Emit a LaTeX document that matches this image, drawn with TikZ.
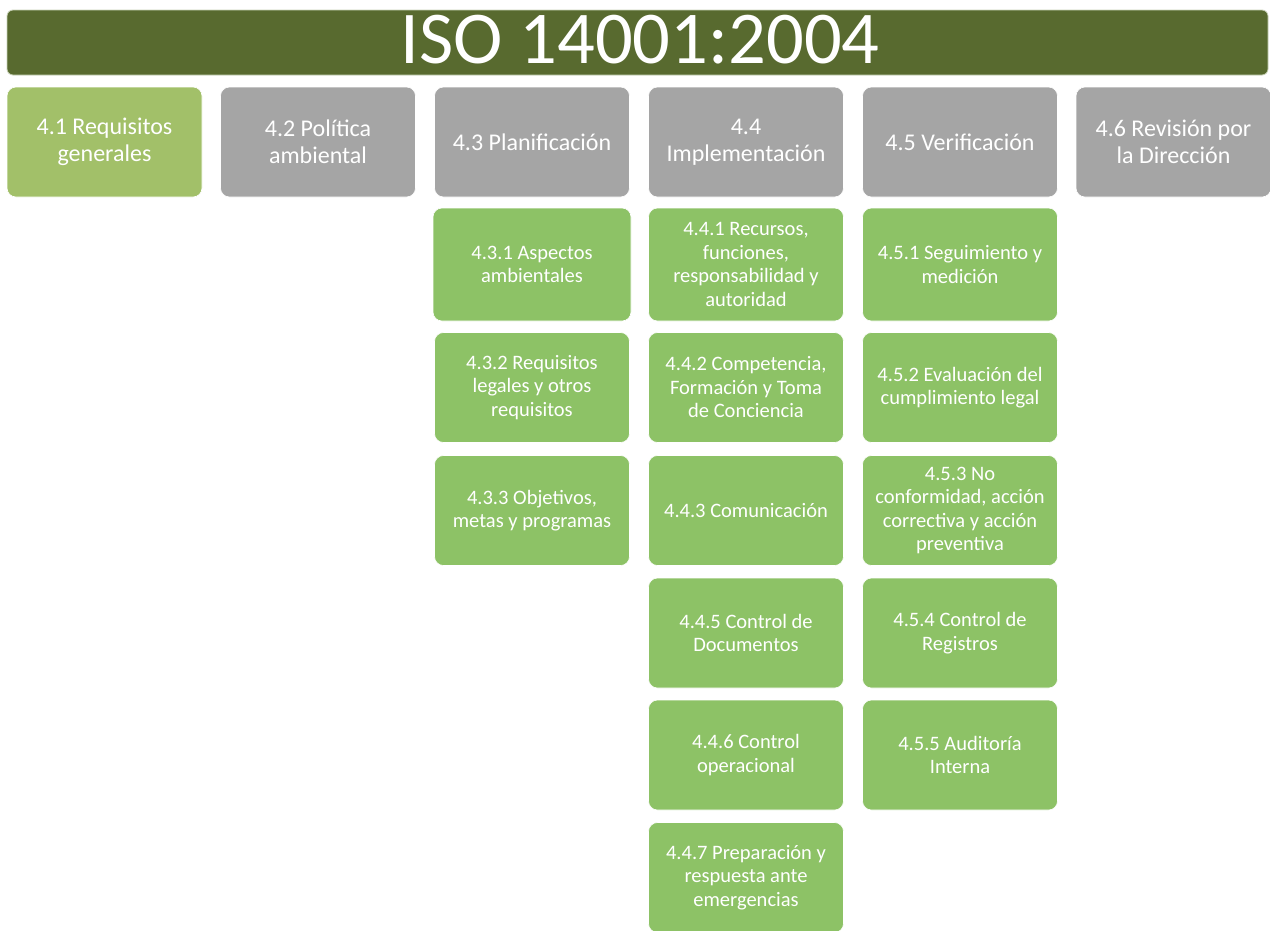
\documentclass[tikz,border=0pt]{standalone}
\usepackage{fontspec}
\setmainfont{Carlito}
\definecolor{titlegreen}{HTML}{586A2F}
\definecolor{titleedge}{HTML}{C9D3B8}
\definecolor{lightgreen}{HTML}{A2C069}
\definecolor{boxgray}{HTML}{A5A5A5}
\definecolor{subgreen}{HTML}{8DC266}
\tikzset{
  box/.style={rounded corners=9pt, minimum width=195pt, minimum height=110pt,
    align=center, text=white, inner sep=0pt, draw=white, line width=0.6pt,
    font=\fontsize{20.5}{23.5}\selectfont},
  topbox/.style={box, font=\fontsize{24}{26.5}\selectfont},
  graybox/.style={topbox, fill=boxgray},
  subbox/.style={box, fill=subgreen},
}
\begin{document}
\begin{tikzpicture}[x=1pt,y=-1pt]
\useasboundingbox (0,0) rectangle (1270,930);
\clip (0,0) rectangle (1270,930);
% title
\node[fill=titlegreen, draw=titleedge, line width=0.8pt, rounded corners=6pt,
  minimum width=1261pt, minimum height=65pt, inner sep=0pt] (titlebar) at (637.5,42.5) {};
\node[text=white, font=\fontsize{74.5}{75}\selectfont, inner sep=0pt] (title) at (640,40) {ISO 14001:2004};
% top row
\node[topbox, fill=lightgreen] (t1) at (104.5,142) {4.1 Requisitos\\generales};
\node[graybox] (t2) at (318,142) {4.2 Política\\ambiental};
\node[graybox] (t3) at (532,142) {4.3 Planificación};
\node[graybox] (t4) at (746,142) {4.4\\Implementación};
\node[graybox] (t5) at (960,142) {4.5 Verificación};
\node[graybox] (t6) at (1173.5,142) {4.6 Revisión por\\la Dirección};
% column 4.3
\node[subbox, minimum width=198pt, minimum height=113pt] (s431) at (532,264.5) {4.3.1 Aspectos\\ambientales};
\node[subbox] (s432) at (532,387.5) {4.3.2 Requisitos\\legales y otros\\requisitos};
\node[subbox] (s433) at (532,510.5) {4.3.3 Objetivos,\\metas y programas};
% column 4.4
\node[subbox, minimum height=113pt] (s441) at (746,264.5) {4.4.1 Recursos,\\funciones,\\responsabilidad y\\autoridad};
\node[subbox] (s442) at (746,387.5) {4.4.2 Competencia,\\Formación y Toma\\de Conciencia};
\node[subbox] (s443) at (746,510.5) {4.4.3 Comunicación};
\node[subbox] (s445) at (746,633) {4.4.5 Control de\\Documentos};
\node[subbox] (s446) at (746,755) {4.4.6 Control\\operacional};
\node[subbox] (s447) at (746,877.5) {4.4.7 Preparación y\\respuesta ante\\emergencias};
% column 4.5
\node[subbox, minimum height=113pt] (s451) at (960,264.5) {4.5.1 Seguimiento y\\medición};
\node[subbox] (s452) at (960,387.5) {4.5.2 Evaluación del\\cumplimiento legal};
\node[subbox] (s453) at (960,510.5) {4.5.3 No\\conformidad, acción\\correctiva y acción\\preventiva};
\node[subbox] (s454) at (960,633) {4.5.4 Control de\\Registros};
\node[subbox] (s455) at (960,755) {4.5.5 Auditoría\\Interna};
\end{tikzpicture}
\end{document}
